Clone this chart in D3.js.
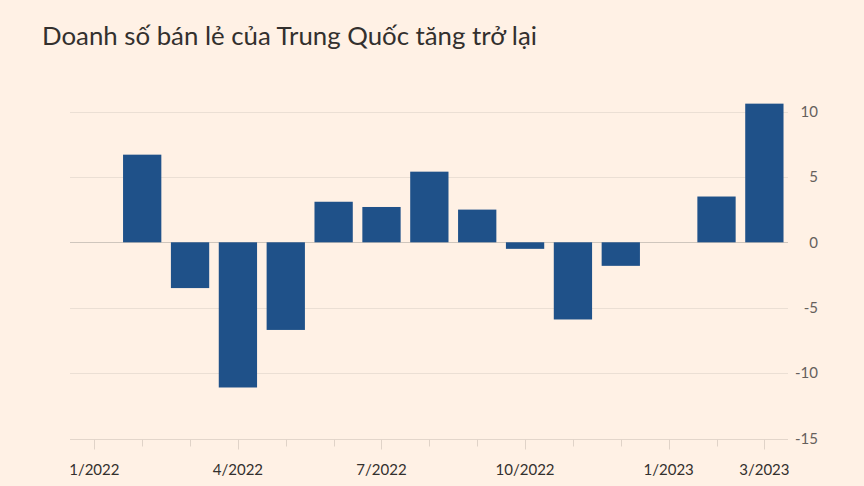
<!DOCTYPE html>
<html>
<head>
<meta charset="utf-8">
<script src="https://cdn.jsdelivr.net/npm/d3@7"></script>
<style>
  body { margin: 0; background: #fff1e5; }
  svg { display: block; font-family: Lato, "Open Sans", sans-serif; }
</style>
</head>
<body>
<div id="chart"></div>
<script>
// tháng, nhãn trục và giá trị (% so với cùng kỳ)
var months = ["1/2022","2/2022","3/2022","4/2022","5/2022","6/2022","7/2022","8/2022",
              "9/2022","10/2022","11/2022","12/2022","1/2023","2/2023","3/2023"];
var values = [null, 6.7, -3.5, -11.1, -6.7, 3.1, 2.7, 5.4, 2.5, -0.5, -5.9, -1.8, null, 3.5, 10.6];
var tickLabels = ["1/2022","4/2022","7/2022","10/2022","1/2023","3/2023"];
var yTicks = [10, 5, 0, -5, -10, -15];
var title = "Doanh số bán lẻ của Trung Quốc tăng trở lại";

var width = 864, height = 486;

var svg = d3.select("#chart")
  .append("svg")
    .attr("width", width)
    .attr("height", height);

svg.append("rect")
  .attr("width", width)
  .attr("height", height)
  .attr("fill", "#fff1e5");

// tiêu đề
svg.append("text")
  .attr("x", 42)
  .attr("y", 45)
  .attr("font-size", 25.8)
  .attr("fill", "#33302e")
  .text(title);

// scales
var x = d3.scaleBand()
  .domain(months)
  .range([70.4, 788.3])
  .paddingInner(0.2)
  .paddingOuter(0.1);

var y = d3.scaleLinear()
  .domain([-15, 10])
  .range([438.5, 111.5]);

// lưới ngang
svg.append("g")
  .selectAll("line")
  .data(yTicks)
  .enter()
  .append("line")
    .attr("x1", 70)
    .attr("x2", 788)
    .attr("y1", function(d){ return Math.round(y(d)) + 0.5; })
    .attr("y2", function(d){ return Math.round(y(d)) + 0.5; })
    .attr("stroke", function(d){ return d === 0 ? "#cfc6bd" : "#ebdfd4"; })
    .attr("stroke-width", 1);

// nhãn trục y bên phải
svg.append("g")
  .selectAll("text")
  .data(yTicks)
  .enter()
  .append("text")
    .attr("x", 818)
    .attr("y", function(d){ return y(d); })
    .attr("dy", "0.35em")
    .attr("text-anchor", "end")
    .attr("font-size", 15)
    .attr("fill", "#66605c")
    .text(function(d){ return d; });

// cột
svg.append("g")
  .selectAll("rect")
  .data(months.map(function(m, i){ return {m: m, v: values[i]}; })
          .filter(function(d){ return d.v !== null; }))
  .enter()
  .append("rect")
    .attr("x", function(d){ return x(d.m); })
    .attr("width", x.bandwidth())
    .attr("y", function(d){ return y(Math.max(0, d.v)); })
    .attr("height", function(d){ return Math.abs(y(d.v) - y(0)); })
    .attr("fill", "#1f5189");

// trục x
var xAxis = svg.append("g")
  .attr("transform", "translate(0," + (Math.round(y(-15)) + 0.5) + ")");

xAxis.append("line")
  .attr("x1", 70)
  .attr("x2", 788)
  .attr("stroke", "#e3d6cb");

xAxis.selectAll(".tick")
  .data(months)
  .enter()
  .append("line")
    .attr("x1", function(d){ return Math.round(x(d) + x.bandwidth()/2) + 0.5; })
    .attr("x2", function(d){ return Math.round(x(d) + x.bandwidth()/2) + 0.5; })
    .attr("y1", 0)
    .attr("y2", function(d){ return tickLabels.indexOf(d) >= 0 ? 10 : 7; })
    .attr("stroke", "#e0d3c8");

xAxis.selectAll(".lbl")
  .data(tickLabels)
  .enter()
  .append("text")
    .attr("x", function(d){ return x(d) + x.bandwidth()/2; })
    .attr("y", 35)
    .attr("text-anchor", "middle")
    .attr("font-size", 15)
    .attr("fill", "#33302e")
    .text(function(d){ return d; });
</script>
</body>
</html>
